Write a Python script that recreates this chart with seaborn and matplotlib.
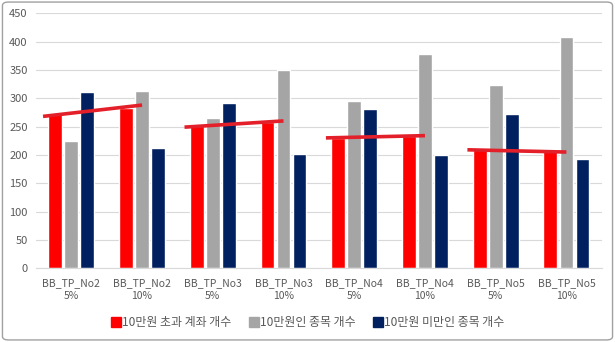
import matplotlib
matplotlib.use("Agg")
import matplotlib.pyplot as plt
import seaborn as sns
import pandas as pd
from matplotlib.lines import Line2D
from matplotlib.patches import FancyBboxPatch

categories = ["BB_TP_No2\n5%", "BB_TP_No2\n10%", "BB_TP_No3\n5%", "BB_TP_No3\n10%",
              "BB_TP_No4\n5%", "BB_TP_No4\n10%", "BB_TP_No5\n5%", "BB_TP_No5\n10%"]
series_names = ["10만원 초과 계좌 개수", "10만원인 종목 개수", "10만원 미만인 종목 개수"]
over_100k = [273, 283, 252, 258, 230, 234, 211, 207]
eq_100k = [225, 313, 266, 350, 296, 378, 324, 409]
under_100k = [311, 212, 292, 202, 281, 199, 272, 193]
# red trend segments (one per pair of groups)
trend_start = [268, 249, 230, 209]
trend_end = [288, 260, 234, 205]

colors = ["#FF0000", "#A5A5A5", "#002060"]

rows = []
for name, vals in zip(series_names, [over_100k, eq_100k, under_100k]):
    for c, v in zip(categories, vals):
        rows.append({"category": c, "series": name, "value": v})
df = pd.DataFrame(rows)

sns.set_theme(style="white")
plt.rcParams["font.family"] = ["Noto Sans CJK KR", "DejaVu Sans"]

fig = plt.figure(figsize=(6.15, 3.42), dpi=100)
ax = fig.add_axes([0.0585, 0.216, 0.92, 0.745])

sns.barplot(data=df, x="category", y="value", hue="series", order=categories,
            hue_order=series_names, palette=colors, width=0.68, gap=0.14,
            saturation=1, legend=False, ax=ax)

for k, (s, e) in enumerate(zip(trend_start, trend_end)):
    ax.plot([2 * k - 0.40, 2 * k + 1.0], [s, e], color="#E3202A", lw=2.6,
            solid_capstyle="butt", zorder=5)

ax.set_xlim(-0.5, 7.5)
ax.set_ylim(0, 450)
ax.set_yticks(range(0, 451, 50))
ax.yaxis.grid(True, color="#D9D9D9", lw=0.8)
ax.set_axisbelow(True)
for sp in ["top", "right", "left"]:
    ax.spines[sp].set_visible(False)
ax.spines["bottom"].set_color("#D9D9D9")
ax.spines["bottom"].set_linewidth(0.8)
ax.tick_params(axis="both", length=0, labelcolor="#595959")
ax.tick_params(axis="x", pad=7, labelsize=7.5)
ax.tick_params(axis="y", pad=6, labelsize=8)
for lab in ax.get_xticklabels():
    lab.set_linespacing(1.45)
ax.set_xlabel("")
ax.set_ylabel("")

handles = [Line2D([0], [0], marker="s", linestyle="none", markersize=6.5,
                  markerfacecolor=c, markeredgecolor=c) for c in colors]
fig.legend(handles, series_names, loc="center", bbox_to_anchor=(0.5, 0.056),
           ncol=3, frameon=False, fontsize=8.6, handletextpad=0.0,
           columnspacing=1.4, handlelength=1.0, labelcolor="#595959")

border = FancyBboxPatch((0.004, 0.006), 0.992, 0.988, boxstyle="round,pad=0,rounding_size=0.01",
                        transform=fig.transFigure, fill=False, edgecolor="#A0A0A0", lw=1.0)
fig.patches.append(border)

fig.savefig("out.png", dpi=100)
